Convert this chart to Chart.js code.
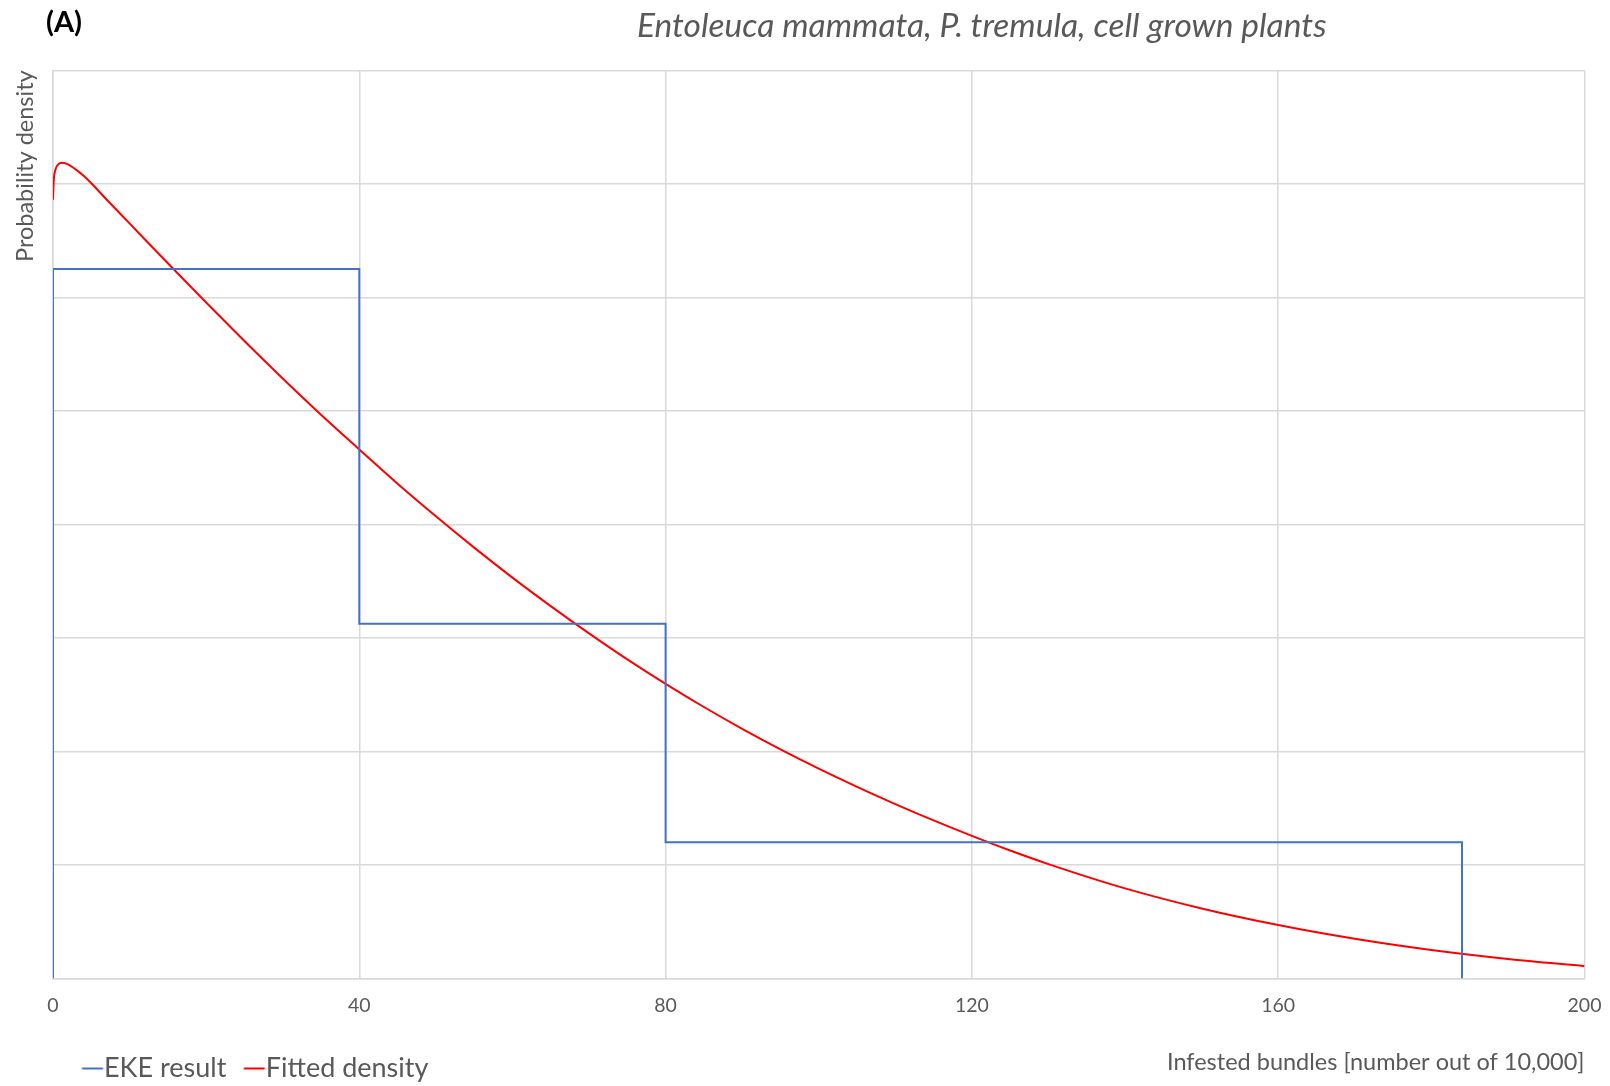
<!DOCTYPE html>
<html>
<head>
<meta charset="utf-8">
<script src="https://cdn.jsdelivr.net/npm/chart.js@4/dist/chart.umd.min.js"></script>
<style>
  html, body { margin: 0; padding: 0; background: #fff; }
  #wrap { position: relative; width: 1610px; height: 1086px; }
  #panel { position: absolute; left: 46px; top: 3px; font: bold 29px/36px Lato, sans-serif; color: #000; }
  #title { position: absolute; left: 637px; top: 4px; font: italic 33.5px/40px Lato, sans-serif; color: #595959; white-space: nowrap; }
</style>
</head>
<body>
<div id="wrap">
  <canvas id="chart" width="1610" height="1086"></canvas>
  <div id="panel">(A)</div>
  <div id="title">Entoleuca mammata, P. tremula, cell grown plants</div>
</div>
<script>
// EKE result: bin edges and density in each bin
const ekeEdges = [0, 40, 80, 184];
const ekeDensity = [0.00625, 0.003125, 0.0012];

// fitted density (units of 0.001)
const fittedX = [0, 0.1, 0.3, 0.6, 1.1, 1.8, 3, 4, 5, 7, 10, 15, 20, 25, 30, 35, 40, 45, 50, 55, 60,
  65, 70, 75, 80, 85, 90, 95, 100, 105, 110, 115, 120, 125, 130, 140, 150, 160, 170, 180, 190, 200];
const fittedY = [6.86, 7.03, 7.12, 7.165, 7.185, 7.175, 7.125, 7.07, 7.005, 6.862, 6.651, 6.30, 5.954,
  5.615, 5.285, 4.966, 4.66, 4.358, 4.071, 3.795, 3.531, 3.28, 3.04, 2.811, 2.595, 2.391, 2.199, 2.018,
  1.848, 1.688, 1.536, 1.392, 1.256, 1.127, 1.007, 0.793, 0.616, 0.47, 0.349, 0.25, 0.171, 0.108].map(v => v / 1000);

const xTicks = [0, 40, 80, 120, 160, 200];

// step outline for the histogram
let ekePoints = [{ x: ekeEdges[0], y: 0 }];
for (let i = 0; i < ekeDensity.length; i++) {
  ekePoints.push({ x: ekeEdges[i], y: ekeDensity[i] });
  ekePoints.push({ x: ekeEdges[i + 1], y: ekeDensity[i] });
}
ekePoints.push({ x: ekeEdges[ekeEdges.length - 1], y: 0 });

const fittedPoints = fittedX.map((x, i) => ({ x: x, y: fittedY[i] }));

const grey = '#595959';
const gridCol = '#d9d9d9';

// short line used as legend marker, sitting right before the label text
function lineIcon(color) {
  const c = document.createElement('canvas');
  c.width = 44;
  c.height = 4;
  const g = c.getContext('2d');
  g.strokeStyle = color;
  g.lineWidth = 2;
  g.beginPath();
  g.moveTo(17.5, 2);
  g.lineTo(38.5, 2);
  g.stroke();
  return c;
}

const legendShift = {
  id: 'legendShift',
  afterLayout(chart) {
    const lg = chart.legend;
    const d = 64.5 - lg.left;
    lg.left += d;
    lg.right += d;
  }
};

new Chart(document.getElementById('chart'), {
  type: 'line',
  data: {
    datasets: [{
      label: 'EKE result',
      data: ekePoints,
      borderColor: '#4472C4',
      backgroundColor: '#4472C4',
      borderWidth: 2,
      pointRadius: 0,
      pointStyle: lineIcon('#4472C4'),
      tension: 0
    }, {
      label: 'Fitted density',
      data: fittedPoints,
      borderColor: '#FF0000',
      backgroundColor: '#FF0000',
      borderWidth: 2,
      pointRadius: 0,
      pointStyle: lineIcon('#FF0000'),
      cubicInterpolationMode: 'monotone'
    }]
  },
  options: {
    responsive: false,
    animation: false,
    layout: { padding: { left: 0, right: 0, top: 70.3, bottom: -6 } },
    scales: {
      x: {
        type: 'linear',
        min: 0,
        max: 200,
        afterBuildTicks: (scale) => { scale.ticks = xTicks.map(v => ({ value: v })); },
        afterFit: (scale) => { scale.paddingRight = 25.5; },
        ticks: { color: grey, font: { family: 'Lato', size: 19.5 }, padding: 16, maxRotation: 0 },
        grid: { color: gridCol, lineWidth: 1.5, drawTicks: false },
        border: { color: gridCol, width: 1.5 },
        title: {
          display: true,
          text: 'Infested bundles [number out of 10,000]',
          align: 'end',
          color: grey,
          font: { family: 'Lato', size: 23.5 },
          padding: { top: 15, bottom: -40 }
        }
      },
      y: {
        min: 0,
        max: 0.008,
        ticks: { display: false, stepSize: 0.001 },
        grid: { color: gridCol, lineWidth: 1.5, drawTicks: false },
        border: { color: gridCol, width: 1.5 },
        title: {
          display: true,
          text: 'Probability density',
          align: 'end',
          color: grey,
          font: { family: 'Lato', size: 23.5 },
          padding: { top: 11.5, bottom: 0 }
        },
        afterFit: (scale) => { scale.width = 53; }
      }
    },
    plugins: {
      legend: {
        position: 'bottom',
        align: 'start',
        labels: {
          usePointStyle: true,
          pointStyleWidth: 8,
          boxHeight: 4,
          color: grey,
          font: { family: 'Lato', size: 27 },
          padding: 18
        }
      },
      tooltip: { enabled: false },
      title: { display: false }
    }
  },
  plugins: [legendShift]
});
</script>
</body>
</html>
